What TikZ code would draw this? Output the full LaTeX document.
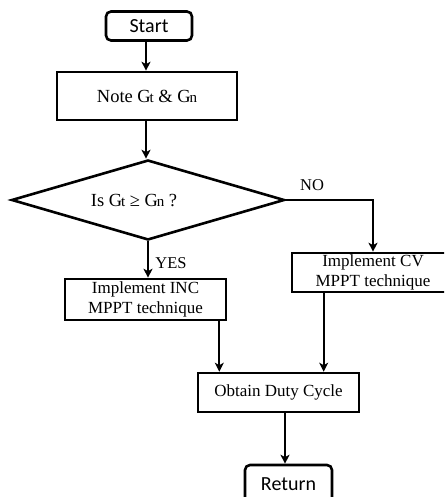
\documentclass[tikz,border=0pt]{standalone}
\usepackage{fontspec}
\setmainfont{Liberation Serif}
\newfontfamily\calfont{Carlito}
\usetikzlibrary{shapes.geometric,arrows.meta}
\newcommand\gsub[1]{G\kern-1.2pt{\fontsize{15}{15}\selectfont #1}}
\begin{document}
\begin{tikzpicture}[x=1pt,y=-1pt,
  box/.style={draw,line width=2.6pt,inner sep=0pt,align=center,font=\fontsize{17}{20.5}\selectfont},
  term/.style={draw,line width=2.6pt,rounded corners=5pt,inner sep=0pt,font=\calfont\fontsize{20}{24}\selectfont},
  lbl/.style={inner sep=0pt,font=\fontsize{16.5}{20}\selectfont},
  arr/.style={line width=2.3pt,-{Stealth[length=9pt,width=9pt,inset=2.5pt]}}]
\useasboundingbox (0,0) rectangle (444,497);
\begin{scope}
\clip (0,0) rectangle (444,497);
\node[term,minimum width=86pt,minimum height=29pt] (start) at (149,26) {Start};
\node[box,minimum width=180pt,minimum height=48pt,font=\fontsize{18.5}{22}\selectfont] (note) at (147,96) {Note \gsub{t} \& \gsub{n}};
\node[draw,diamond,line width=2.6pt,inner sep=0pt,minimum width=273pt,minimum height=80pt] (dec) at (148,200) {};
\node[lbl,font=\fontsize{18.5}{20}\selectfont] (dectxt) at (134,201) {Is \gsub{t} ≥ \gsub{n} ?};
\node[box,minimum width=161pt,minimum height=41pt] (inc) at (145.5,299.5) {Implement INC\\MPPT technique};
\node[box,minimum width=162pt,minimum height=39pt] (cv) at (373,272.5) {Implement CV\\MPPT technique};
\node[box,minimum width=161pt,minimum height=39pt] (obt) at (278.5,392.5) {Obtain Duty Cycle};
\node[term,minimum width=87pt,minimum height=38pt] (ret) at (288.5,484) {Return};
\node[lbl] (no) at (312,185) {NO};
\node[lbl] (yes) at (171,263) {YES};
\draw[arr] ([xshift=-3pt]start.south) -- ([xshift=-3pt]start.south |- note.north);
\draw[arr] ([xshift=-1pt]note.south) -- ([xshift=-1pt]note.south |- dec.north);
\draw[arr] (dec.south) -- (dec.south |- inc.north);
\draw[arr] (dec.east) -| (cv.north);
\draw[arr] ([xshift=-8pt]inc.south east) -- ([xshift=-8pt]inc.south east |- obt.north);
\draw[arr] ([xshift=33pt]cv.south west) -- ([xshift=33pt]cv.south west |- obt.north);
\draw[arr] ([xshift=6.5pt]obt.south) -- ([xshift=6.5pt]obt.south |- ret.north);
\end{scope}
\end{tikzpicture}
\end{document}
